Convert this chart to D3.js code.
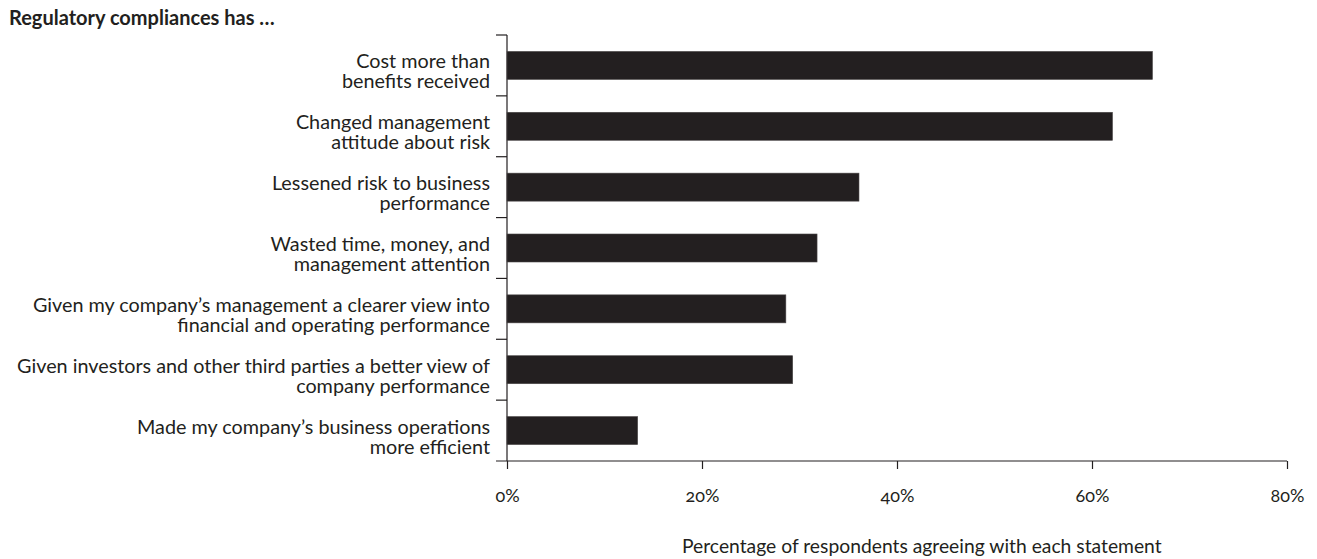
<!DOCTYPE html>
<html lang="en">
<head>
  <meta charset="UTF-8">
  <script src="https://cdn.jsdelivr.net/npm/d3@7"></script>
  <title>Regulatory compliances</title>
  <style>
    body { margin: 0; background: #fff; }
    text { font-family: Lato, "Open Sans", sans-serif; fill: #231f20; }
  </style>
</head>
<body>
  <svg width="1317" height="559"></svg>
<script>
  // statements, top to bottom (each split over two lines)
  const labels = [
    ["Cost more than", "benefits received"],
    ["Changed management", "attitude about risk"],
    ["Lessened risk to business", "performance"],
    ["Wasted time, money, and", "management attention"],
    ["Given my company\u2019s management a clearer view into", "financial and operating performance"],
    ["Given investors and other third parties a better view of", "company performance"],
    ["Made my company\u2019s business operations", "more efficient"]
  ];
  const values = [66.2, 62.1, 36.1, 31.8, 28.6, 29.3, 13.4];
  const xTicks = [0, 20, 40, 60, 80];

  const svg = d3.select("svg");
  const margin = { left: 507, top: 35, right: 30, bottom: 98 };
  const innerWidth = 1287 - margin.left;
  const innerHeight = 461 - margin.top;

  const chart = svg.append("g")
    .attr("transform", "translate(" + margin.left + "," + margin.top + ")");

  const rows = labels.map((d, i) => i);

  const x = d3.scaleLinear().domain([0, 80]).range([0, innerWidth]);
  const y = d3.scaleBand().domain(rows).range([0, innerHeight]).paddingInner(0.54).paddingOuter(0.27);

  // x axis
  const xAxis = chart.append("g")
    .attr("transform", "translate(0," + innerHeight + ")")
    .call(d3.axisBottom(x).tickValues(xTicks).tickFormat(d => d + "%").tickSize(8).tickPadding(20));
  xAxis.select(".domain").remove();
  xAxis.append("line")
    .attr("x1", -11).attr("x2", innerWidth)
    .attr("stroke", "#231f20").attr("stroke-width", 1.2);
  xAxis.selectAll(".tick line").attr("stroke", "#231f20").attr("stroke-width", 1.2);
  xAxis.selectAll(".tick text")
    .style("font-size", "18px")
    .style("font-family", "Lato, sans-serif")
    .style("font-variant-numeric", "oldstyle-nums")
    .style("font-feature-settings", "'onum' 1")
    .attr("fill", "#231f20");

  // y axis: ticks at band boundaries
  const step = y.step();
  const bounds = d3.range(rows.length).map(i => i * step);
  chart.append("line")
    .attr("x1", 0).attr("x2", 0).attr("y1", 0).attr("y2", innerHeight)
    .attr("stroke", "#231f20").attr("stroke-width", 1.2);
  chart.selectAll(".ytick")
    .data(bounds)
    .join("line")
    .attr("class", "ytick")
    .attr("x1", -11).attr("x2", 0)
    .attr("y1", d => d).attr("y2", d => d)
    .attr("stroke", "#231f20").attr("stroke-width", 1.2);

  // bars
  chart.selectAll(".bar")
    .data(values)
    .join("rect")
    .attr("class", "bar")
    .attr("x", 0)
    .attr("y", (d, i) => y(i))
    .attr("width", d => x(d))
    .attr("height", y.bandwidth())
    .attr("fill", "#231f20")
    .attr("stroke", "#4a4647")
    .attr("stroke-width", 0.6);

  // category labels
  const lab = chart.selectAll(".cat")
    .data(labels)
    .join("text")
    .attr("class", "cat")
    .attr("text-anchor", "end")
    .attr("x", -17)
    .attr("y", (d, i) => y(i) + y.bandwidth() / 2 + 3)
    .style("font-size", "19.8px");
  lab.selectAll("tspan")
    .data(d => d)
    .join("tspan")
    .attr("x", -17)
    .attr("dy", (d, i) => i === 0 ? 0 : 20)
    .text(d => d);

  // axis title
  chart.append("text")
    .attr("x", 175)
    .attr("y", innerHeight + 92)
    .attr("text-anchor", "start")
    .style("font-size", "19.3px")
    .text("Percentage of respondents agreeing with each statement");

  // title
  svg.append("text")
    .attr("x", 9)
    .attr("y", 25)
    .style("font-size", "20px")
    .style("font-weight", "bold")
    .text("Regulatory compliances has \u2026");
</script>
</body>
</html>
